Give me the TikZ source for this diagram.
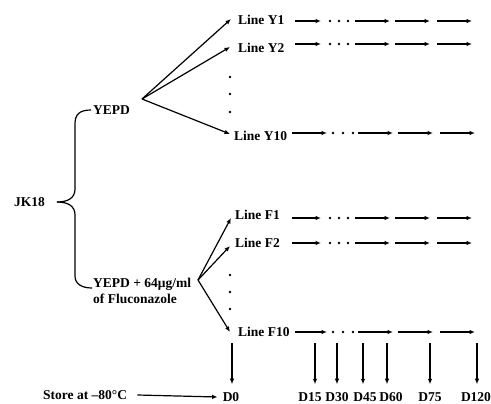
\documentclass[tikz,border=0pt]{standalone}
\usepackage{fontspec}
\setmainfont{Liberation Serif}
\usetikzlibrary{arrows.meta}
\begin{document}
\begin{tikzpicture}[x=1pt,y=-1pt,
  lbl/.style={font=\fontsize{13.5}{16}\selectfont\bfseries, inner sep=0pt},
  arr/.style={line width=1.2pt, -{Latex[length=5.5pt,width=4.5pt]}},
  vdot/.style={circle, fill, inner sep=0pt, minimum size=2.8pt}]
\useasboundingbox (0,0) rectangle (491,404);

% strain and media
\node[lbl, anchor=west] (jk) at (14,202) {JK18};
\node[lbl, anchor=west] (yepd) at (93,110) {YEPD};
\node[lbl, anchor=north west, align=left] (flu) at (93,278) {YEPD + 64μg/ml\\of Fluconazole};

% curly brace joining the two media to the strain
\coordinate (tip) at (57,202);
\draw[line width=1.2pt] ([xshift=-2pt]yepd.west) .. controls (80,110) and (75,114) .. (75,124)
  -- (75,189) .. controls (75,198) and (68,202) .. (tip);
\draw[line width=1.2pt] (tip) .. controls (68,202) and (75,206) .. (75,215)
  -- (75,276) .. controls (75,284) and (82,288) .. (92,288);

% fan origins
\coordinate (fy) at (142,99);
\coordinate (ff) at (198,280);

% evolved lines
\node[lbl, anchor=west] (y1)  at (238,20)  {Line Y1};
\node[lbl, anchor=west] (y2)  at (238,48)  {Line Y2};
\node[lbl, anchor=west] (y10) at (234,136) {Line Y10};
\node[lbl, anchor=west] (f1)  at (235,215) {Line F1};
\node[lbl, anchor=west] (f2)  at (235,243) {Line F2};
\node[lbl, anchor=west] (f10) at (238,332) {Line F10};

\draw[arr] (fy) -- ([xshift=-7pt,yshift=1pt]y1.west);
\draw[arr] (fy) -- ([xshift=-8pt,yshift=1pt]y2.west);
\draw[arr] (fy) -- ([xshift=-4pt,yshift=2pt]y10.west);
\draw[arr] (ff) -- ([xshift=-4pt,yshift=-3pt]f1.west);
\draw[arr] (ff) -- ([xshift=-5pt,yshift=-3pt]f2.west);
\draw[arr] (ff) -- ([xshift=-8pt]f10.west);

% vertical ellipses between lines
\foreach \yy in {77,94,112} \node[vdot] at (230,\yy) {};
\foreach \yy in {275,292,309} \node[vdot] at (230,\yy) {};

% serial transfer chains
\foreach \r/\yy/\s in {y1/21/295, y2/44/295, f1/218/292, f2/243/292} {
  \coordinate (\r-a) at (\s,\yy);
  \coordinate (\r-b) at (321,\yy);
  \coordinate (\r-c) at (355,\yy);
  \coordinate (\r-d) at (390,\yy);
  \coordinate (\r-e) at (395,\yy);
  \coordinate (\r-f) at (430,\yy);
  \coordinate (\r-g) at (437,\yy);
  \coordinate (\r-h) at (472,\yy);
  \draw[arr] (\r-a) -- (\r-b);
  \draw[arr] (\r-c) -- (\r-d);
  \draw[arr] (\r-e) -- (\r-f);
  \draw[arr] (\r-g) -- (\r-h);
  \foreach \xx in {330,339,348} \node[vdot] at (\xx,\yy) {};
}
\foreach \r/\yy/\s in {y10/133/292, f10/332/295} {
  \coordinate (\r-a) at (\s,\yy);
  \coordinate (\r-b) at (327,\yy);
  \coordinate (\r-c) at (358,\yy);
  \coordinate (\r-d) at (393,\yy);
  \coordinate (\r-e) at (398,\yy);
  \coordinate (\r-f) at (433,\yy);
  \coordinate (\r-g) at (440,\yy);
  \coordinate (\r-h) at (475,\yy);
  \draw[arr] (\r-a) -- (\r-b);
  \draw[arr] (\r-c) -- (\r-d);
  \draw[arr] (\r-e) -- (\r-f);
  \draw[arr] (\r-g) -- (\r-h);
  \foreach \xx in {333,343,353} \node[vdot] at (\xx,\yy) {};
}

% freezing time points
\node[lbl, anchor=west] (store) at (43,395) {Store at –80°C};
\node[lbl] (d0)   at (231,397) {D0};
\node[lbl] (d15)  at (310,397) {D15};
\node[lbl] (d30)  at (337,397) {D30};
\node[lbl] (d45)  at (365,397) {D45};
\node[lbl] (d60)  at (391,397) {D60};
\node[lbl] (d75)  at (430,397) {D75};
\node[lbl] (d120) at (476,397) {D120};

\draw[arr] ([xshift=10pt]store.east) -- ([xshift=-5pt]d0.west);

\foreach \d/\xx in {d0/232, d15/315, d30/337, d45/363, d60/387, d75/430, d120/477} {
  \coordinate (t\d) at (\xx,343);
  \draw[arr] (t\d) -- ([yshift=8pt]t\d |- \d.north);
}
\end{tikzpicture}
\end{document}
